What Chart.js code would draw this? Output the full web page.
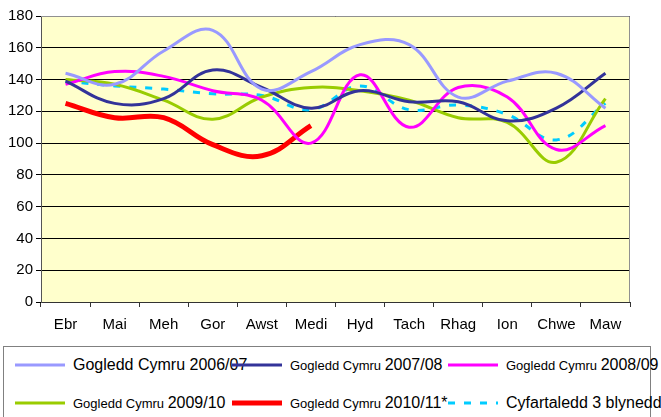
<!DOCTYPE html>
<html>
<head>
  <title>Gogledd Cymru</title>
  <script src="https://cdn.jsdelivr.net/npm/chart.js"></script>
  <style>
    body { margin: 0; width: 661px; height: 417px; overflow: hidden; background: #fff; position: relative;
           font-family: "Liberation Sans", Arial, sans-serif; }
    #wrap { position: absolute; left: 0; top: 0; width: 661px; height: 340px; }
    #legend { position: absolute; left: 3px; top: 346px; width: 646px; height: 80px; border: 1px solid #808080; }
    .item { position: absolute; white-space: nowrap; height: 20px; }
    .item svg { position: absolute; left: 0; top: 0; }
    .item span.txt { position: absolute; top: 0; line-height: 20px; color: #000; }
  </style>
</head>
<body>
  <div id="wrap"><canvas id="data-chart"></canvas></div>
  <div id="legend"></div>
  <script>
    // months on the x axis
    const months = ['Ebr', 'Mai', 'Meh', 'Gor', 'Awst', 'Medi', 'Hyd', 'Tach', 'Rhag', 'Ion', 'Chwe', 'Maw'];

    // values
    const gc0607 = [144, 137, 158, 171, 134, 145, 162, 162, 129, 139, 144, 122];
    const gc0708 = [139, 125, 128, 146, 135, 122, 133, 126, 126, 114, 122, 144];
    const gc0809 = [137, 145, 142, 133, 127, 100, 143, 110, 135, 129, 96, 111];
    const gc0910 = [140, 137, 127, 115, 129, 135, 133, 127, 116, 113, 88, 128];
    const gc1011 = [125, 116, 116, 99, 92, 111, null, null, null, null, null, null];
    const avg3yr = [139, 136, 134, 131, 130, 121, 136, 121, 124, 118, 102, 125];

    const yTicks = [0, 20, 40, 60, 80, 100, 120, 140, 160, 180];

    const seriesLabels = ['Gogledd Cymru 2006/07', 'Gogledd Cymru 2007/08', 'Gogledd Cymru 2008/09',
                          'Gogledd Cymru 2009/10', 'Gogledd Cymru 2010/11*', 'Cyfartaledd 3 blynedd'];
    const seriesColours = ['#9999FF', '#333399', '#FF00FF', '#99CC00', '#FF0000', '#00CCFF'];
    const seriesData = [gc0607, gc0708, gc0809, gc0910, gc1011, avg3yr];

    const datasets = seriesData.map((d, i) => ({
      label: seriesLabels[i],
      data: d,
      borderColor: seriesColours[i],
      backgroundColor: seriesColours[i],
      borderWidth: i === 4 ? 5 : 3,
      borderDash: i === 5 ? [7, 9] : [],
      pointRadius: 0,
      tension: 0.4,
      fill: false,
      spanGaps: false,
    }));

    // yellow plot background with grey frame
    const plotBg = {
      id: 'plotBg',
      beforeDraw(chart) {
        const { ctx, chartArea: a } = chart;
        ctx.save();
        ctx.fillStyle = '#FFFFCC';
        ctx.fillRect(a.left, a.top, a.right - a.left, a.bottom - a.top);
        ctx.restore();
      },
      afterDatasetsDraw(chart) {
        const { ctx, chartArea: a } = chart;
        ctx.save();
        ctx.strokeStyle = '#909090';
        ctx.lineWidth = 1;
        ctx.beginPath();
        ctx.moveTo(a.left, a.top + 0.5);
        ctx.lineTo(a.right - 0.5, a.top + 0.5);
        ctx.lineTo(a.right - 0.5, a.bottom);
        ctx.stroke();
        ctx.restore();
      }
    };

    const ctx = document.getElementById('data-chart').getContext('2d');
    new Chart(ctx, {
      type: 'line',
      data: { labels: months, datasets: datasets },
      plugins: [plotBg],
      options: {
        responsive: true,
        maintainAspectRatio: false,
        animation: false,
        layout: { padding: { top: 16, right: 31, left: 0, bottom: 0 } },
        plugins: { legend: { display: false }, tooltip: { enabled: false } },
        scales: {
          x: {
            offset: true,
            afterFit: s => { s.height = 38; },
            grid: { offset: true, drawOnChartArea: false, color: '#333', tickLength: 5 },
            border: { color: '#333' },
            ticks: { color: '#000', font: { family: 'Liberation Sans', size: 15 }, padding: 9, maxRotation: 0, autoSkip: false },
          },
          y: {
            min: 0,
            max: 180,
            afterFit: s => { s.width = 41; },
            afterBuildTicks: s => { s.ticks = yTicks.map(v => ({ value: v })); },
            grid: { color: '#000', lineWidth: 1, tickLength: 5 },
            border: { color: '#555' },
            ticks: { color: '#000', font: { family: 'Liberation Sans', size: 15 }, padding: 3 },
          },
        },
      },
    });

    // legend drawn as html: first and last labels large, others with a smaller prefix
    const legendPos = [[11, 8], [228, 8], [444, 8], [11, 46], [228, 46], [444, 46]];
    const legend = document.getElementById('legend');
    datasets.forEach((ds, i) => {
      const item = document.createElement('div');
      item.className = 'item';
      item.style.left = legendPos[i][0] + 'px';
      item.style.top = legendPos[i][1] + 'px';
      const dash = ds.borderDash.length ? `stroke-dasharray="${ds.borderDash.join(' ')}"` : '';
      item.innerHTML = `<svg width="56" height="20"><line x1="0" y1="10" x2="50" y2="10" stroke="${ds.borderColor}" stroke-width="${ds.borderWidth}" ${dash}/></svg>`;
      const txt = document.createElement('span');
      txt.className = 'txt';
      txt.style.left = '58px';
      const lab = ds.label;
      if (i === 0 || i === 5) {
        txt.innerHTML = `<span style="font-size:16px">${lab}</span>`;
      } else {
        const cut = lab.lastIndexOf(' ') + 1;
        txt.innerHTML = `<span style="font-size:13px">${lab.slice(0, cut)}</span><span style="font-size:16px">${lab.slice(cut)}</span>`;
      }
      item.appendChild(txt);
      legend.appendChild(item);
    });
  </script>
</body>
</html>
